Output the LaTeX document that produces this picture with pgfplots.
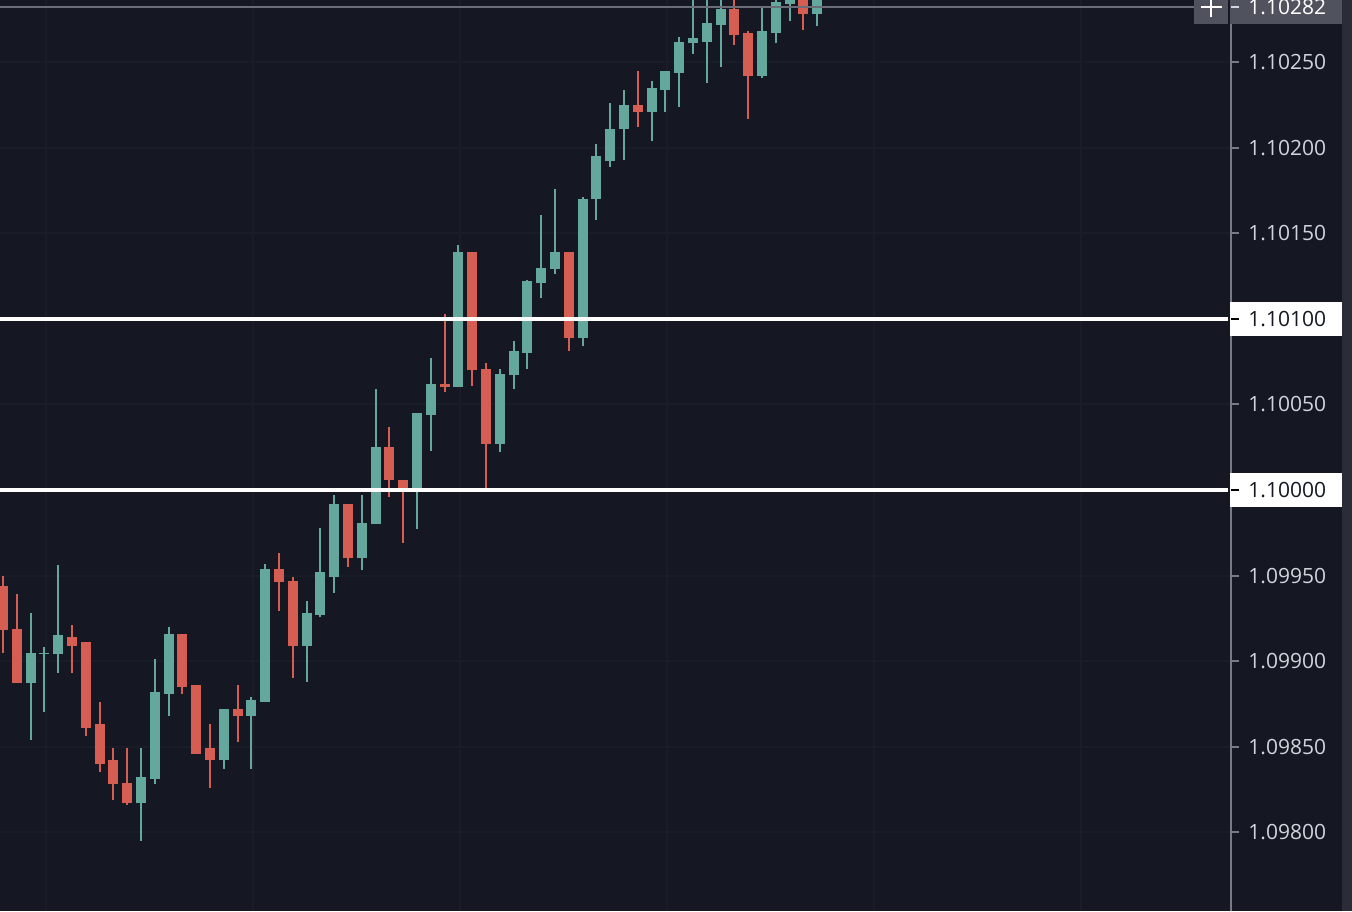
\documentclass[border=0pt]{standalone}
\usepackage{pgfplots}
\pgfplotsset{compat=1.18}
\usepackage{pgfplotstable}
\usepackage{fontspec}
\setmainfont{Open Sans}

\definecolor{bgcol}{HTML}{151722}
\definecolor{gridcol}{HTML}{1A1D28}
\definecolor{stripcol}{HTML}{2A2D38}
\definecolor{upcol}{HTML}{64A79C}
\definecolor{downcol}{HTML}{D55D52}
\definecolor{axiscol}{HTML}{787B86}
\definecolor{labelcol}{HTML}{D1D4DC}
\definecolor{crosscol}{HTML}{6A6D78}
\definecolor{boxgray}{HTML}{50535E}

% i = candle index, o h l c = open high low close
\pgfplotstableread{
i o h l c
2 1.09887 1.09928 1.09854 1.09905
3 1.09904 1.09908 1.09870 1.09905
4 1.09904 1.09956 1.09893 1.09915
10 1.09817 1.09849 1.09795 1.09832
11 1.09831 1.09901 1.09828 1.09882
12 1.09881 1.09920 1.09868 1.09916
16 1.09842 1.09872 1.09837 1.09872
18 1.09868 1.09879 1.09837 1.09877
19 1.09876 1.09957 1.09876 1.09954
22 1.09909 1.09935 1.09888 1.09928
23 1.09927 1.09978 1.09926 1.09952
24 1.09949 1.09997 1.09940 1.09992
26 1.09960 1.09997 1.09953 1.09981
27 1.09980 1.10059 1.09980 1.10025
30 1.10000 1.10045 1.09977 1.10045
31 1.10044 1.10077 1.10023 1.10062
33 1.10060 1.10143 1.10060 1.10139
36 1.10027 1.10071 1.10022 1.10068
37 1.10067 1.10087 1.10059 1.10081
38 1.10080 1.10123 1.10071 1.10122
39 1.10121 1.10161 1.10112 1.10130
40 1.10129 1.10176 1.10126 1.10139
42 1.10089 1.10171 1.10084 1.10170
43 1.10170 1.10202 1.10158 1.10195
44 1.10192 1.10226 1.10189 1.10211
45 1.10211 1.10234 1.10193 1.10225
47 1.10221 1.10239 1.10204 1.10235
48 1.10234 1.10245 1.10221 1.10245
49 1.10244 1.10265 1.10224 1.10262
50 1.10261 1.10288 1.10255 1.10264
51 1.10262 1.10290 1.10238 1.10273
52 1.10272 1.10291 1.10247 1.10281
55 1.10242 1.10282 1.10241 1.10268
56 1.10267 1.10292 1.10261 1.10285
57 1.10284 1.10300 1.10274 1.10292
59 1.10278 1.10299 1.10271 1.10293
}\uptab

\pgfplotstableread{
i o h l c
0 1.09944 1.09950 1.09905 1.09918
1 1.09919 1.09939 1.09887 1.09887
5 1.09914 1.09921 1.09893 1.09909
6 1.09911 1.09911 1.09856 1.09861
7 1.09863 1.09876 1.09835 1.09840
8 1.09842 1.09849 1.09819 1.09828
9 1.09829 1.09849 1.09816 1.09817
13 1.09916 1.09916 1.09881 1.09885
14 1.09886 1.09886 1.09846 1.09846
15 1.09849 1.09863 1.09826 1.09842
17 1.09872 1.09886 1.09853 1.09868
20 1.09954 1.09963 1.09929 1.09946
21 1.09947 1.09949 1.09890 1.09909
25 1.09992 1.09992 1.09955 1.09960
28 1.10025 1.10037 1.09996 1.10006
29 1.10006 1.10006 1.09969 1.10000
32 1.10062 1.10103 1.10057 1.10060
34 1.10139 1.10139 1.10061 1.10070
35 1.10071 1.10074 1.10000 1.10027
41 1.10139 1.10139 1.10081 1.10089
46 1.10225 1.10245 1.10212 1.10221
53 1.10281 1.10295 1.10260 1.10266
54 1.10267 1.10268 1.10217 1.10242
58 1.10292 1.10298 1.10269 1.10278
}\downtab

\pgfplotsset{candle/.style={only marks, mark size=0pt,
  mark options={draw=none, fill=none}, forget plot}}

\begin{document}
\begin{tikzpicture}
\useasboundingbox (0,0) rectangle (676pt,455.5pt);
\fill[bgcol] (0,0) rectangle (676pt,455.5pt);
\fill[stripcol] (671pt,0) rectangle (676pt,455.5pt);
\begin{axis}[
  at={(0,0)}, anchor=south west, scale only axis,
  width=615.5pt, height=455.5pt,
  xmin=-0.2174, xmax=88.99, ymin=1.0975395, ymax=1.1028638,
  axis x line*=bottom, axis y line*=right,
  x axis line style={draw=none},
  y axis line style={draw=axiscol, line width=1pt},
  xtick={3.15,18.1,33.1,48.1,63.1,78.1}, xticklabels={},
  xtick style={draw=none},
  ytick={1.098,1.0985,1.099,1.0995,1.1,1.1005,1.101,1.1015,1.102,1.1025},
  yticklabels={1.09800,1.09850,1.09900,1.09950,1.10000,1.10050,1.10100,1.10150,1.10200,1.10250},
  ytick style={draw=axiscol, line width=1pt},
  tick align=outside, major tick length=4pt,
  xmajorgrids, ymajorgrids,
  grid style={draw=gridcol, line width=1pt},
  yticklabel style={font=\fontsize{10.5pt}{12pt}\selectfont, text=labelcol,
    anchor=west, inner sep=0pt, xshift=4.5pt},
  clip=true,
]
% wicks
\addplot[candle, error bars/.cd, y dir=plus, y explicit,
  error mark=none, error bar style={draw=upcol, line width=1pt}]
  table[x=i, y=l, y error plus expr=\thisrow{h}-\thisrow{l}] {\uptab};
\addplot[candle, error bars/.cd, y dir=plus, y explicit,
  error mark=none, error bar style={draw=downcol, line width=1pt}]
  table[x=i, y=l, y error plus expr=\thisrow{h}-\thisrow{l}] {\downtab};
% bodies
\addplot[candle, error bars/.cd, y dir=plus, y explicit,
  error mark=none, error bar style={draw=upcol, line width=5pt}]
  table[x=i, y=o, y error plus expr=\thisrow{c}-\thisrow{o}] {\uptab};
\addplot[candle, error bars/.cd, y dir=plus, y explicit,
  error mark=none, error bar style={draw=downcol, line width=5pt}]
  table[x=i, y=c, y error plus expr=\thisrow{o}-\thisrow{c}] {\downtab};
% horizontal levels
\addplot[white, line width=2pt, forget plot] coordinates {(-1,1.101) (88.77,1.101)};
\addplot[white, line width=2pt, forget plot] coordinates {(-1,1.100) (88.77,1.100)};
\addplot[crosscol, line width=1pt, forget plot] coordinates {(-1,1.10282) (86.3,1.10282)};
\coordinate (A1) at (axis cs:88.99,1.101);
\coordinate (A0) at (axis cs:88.99,1.100);
\coordinate (AC) at (axis cs:88.99,1.10282);
\end{axis}
% price labels on the axis
\fill[white] ([xshift=-0.5pt,yshift=-8.5pt]A1) rectangle ([xshift=55.5pt,yshift=8.5pt]A1);
\draw[black, line width=1pt] ([xshift=0pt]A1) -- ([xshift=4pt]A1);
\node[anchor=west, inner sep=0pt, text=bgcol, font=\fontsize{10.5pt}{12pt}\selectfont] at ([xshift=8.5pt]A1) {1.10100};
\fill[white] ([xshift=-0.5pt,yshift=-8.5pt]A0) rectangle ([xshift=55.5pt,yshift=8.5pt]A0);
\draw[black, line width=1pt] ([xshift=0pt]A0) -- ([xshift=4pt]A0);
\node[anchor=west, inner sep=0pt, text=bgcol, font=\fontsize{10.5pt}{12pt}\selectfont] at ([xshift=8.5pt]A0) {1.10000};
% crosshair label
\fill[boxgray] ([xshift=-0.5pt,yshift=-8.5pt]AC) rectangle ([xshift=55.5pt,yshift=8.5pt]AC);
\draw[labelcol, line width=1pt] ([xshift=0pt]AC) -- ([xshift=4pt]AC);
\node[anchor=west, inner sep=0pt, text=white, font=\fontsize{10.5pt}{12pt}\selectfont] at ([xshift=8.5pt]AC) {1.10282};
\fill[boxgray] ([xshift=-18.5pt,yshift=-8.5pt]AC) rectangle ([xshift=-1.5pt,yshift=8.5pt]AC);
\draw[white, line width=1pt] ([xshift=-15pt]AC) -- ([xshift=-4.5pt]AC);
\draw[white, line width=1pt] ([xshift=-10pt,yshift=-5pt]AC) -- ([xshift=-10pt,yshift=5pt]AC);
\end{tikzpicture}
\end{document}
